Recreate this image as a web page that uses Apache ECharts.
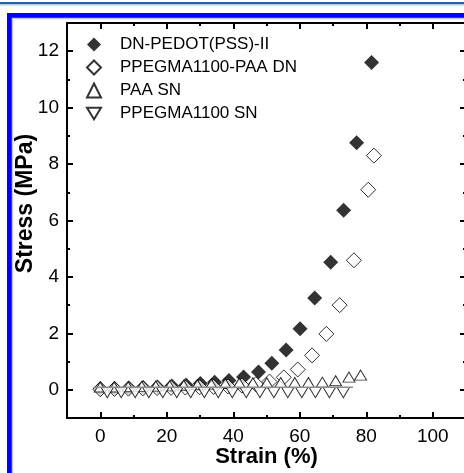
<!DOCTYPE html>
<html>
<head>
<meta charset="utf-8">
<script src="https://cdn.jsdelivr.net/npm/echarts@6/dist/echarts.min.js"></script>
<style>
  html, body { margin: 0; padding: 0; background: #fff; }
  #chart { width: 464px; height: 473px; }
</style>
</head>
<body>
<div id="chart"></div>
<script>
  // series names
  var nameDN = 'DN-PEDOT(PSS)-II';
  var nameHDN = 'PPEGMA1100-PAA DN';
  var namePAA = 'PAA SN';
  var namePEG = 'PPEGMA1100 SN';

  // DN-PEDOT(PSS)-II  (filled diamonds)
  var strainDN = [0, 4.3, 8.6, 12.9, 17.2, 21.5, 25.8, 30.1, 34.4, 38.7, 43.1, 47.6, 51.6, 55.9, 60.1, 64.5, 69.3, 73.2, 77.1, 81.6];
  var stressDN = [0.04, 0.05, 0.06, 0.08, 0.1, 0.13, 0.17, 0.22, 0.27, 0.33, 0.45, 0.63, 0.94, 1.41, 2.16, 3.25, 4.52, 6.36, 8.76, 11.6];

  // PPEGMA1100-PAA DN  (open diamonds)
  var strainHDN = [0, 4.3, 8.5, 12.8, 17.1, 21.3, 25.6, 29.9, 34.1, 38.4, 42.6, 46.8, 50.9, 55.2, 59.4, 63.7, 68.0, 72.0, 76.3, 80.6, 82.3];
  var stressHDN = [0.02, 0.03, 0.04, 0.05, 0.06, 0.07, 0.08, 0.09, 0.1, 0.12, 0.15, 0.2, 0.29, 0.44, 0.72, 1.22, 1.98, 3.0, 4.59, 7.09, 8.3];

  // PAA SN  (open up-triangles)
  var strainPAA = [0, 4.2, 8.4, 12.5, 16.7, 20.9, 25.1, 29.2, 33.4, 37.6, 41.8, 45.9, 50.1, 54.3, 58.5, 62.6, 66.8, 70.8, 74.8, 78.3];
  var stressPAA = [0.1, 0.1, 0.11, 0.12, 0.13, 0.14, 0.16, 0.18, 0.2, 0.22, 0.24, 0.25, 0.25, 0.26, 0.26, 0.26, 0.27, 0.32, 0.45, 0.52];

  // PPEGMA1100 SN  (open down-triangles)
  var strainPEG = [2.1, 6.3, 10.5, 14.6, 18.8, 23.0, 27.2, 31.3, 35.5, 39.7, 43.9, 48.0, 52.2, 56.4, 60.6, 64.7, 68.9, 73.1];
  var stressPEG = [-0.1, -0.1, -0.1, -0.1, -0.1, -0.1, -0.1, -0.1, -0.1, -0.1, -0.1, -0.1, -0.1, -0.1, -0.1, -0.1, -0.1, -0.1];

  // grey base line
  var strainBase = [-2, 76];
  var stressBase = [0.09, 0.09];

  // ticks
  var xMajor = [0, 20, 40, 60, 80, 100];
  var xMinor = [10, 30, 50, 70, 90];
  var yMajor = [0, 2, 4, 6, 8, 10, 12];
  var yMinor = [1, 3, 5, 7, 9, 11];

  function pairs(xs, ys) {
    return xs.map(function (x, i) { return [x, ys[i]]; });
  }

  var font = '"Liberation Sans", Arial, sans-serif';

  function xAx(pos, ticks, len, showLine, showLabel) {
    return {
      type: 'value', position: pos, min: -10, max: 110,
      axisLine: { show: showLine, onZero: false, lineStyle: { color: '#000', width: 2 } },
      axisTick: { show: true, inside: true, length: len, customValues: ticks, lineStyle: { color: '#000', width: 2 } },
      axisLabel: { show: showLabel, customValues: ticks, color: '#000', fontSize: 19, fontFamily: font, margin: 9 },
      splitLine: { show: false }
    };
  }
  function yAx(pos, ticks, len, showLine, showLabel) {
    return {
      type: 'value', position: pos, min: -1, max: 13,
      axisLine: { show: showLine, onZero: false, lineStyle: { color: '#000', width: 2 } },
      axisTick: { show: true, inside: true, length: len, customValues: ticks, lineStyle: { color: '#000', width: 2 } },
      axisLabel: { show: showLabel, customValues: ticks, color: '#000', fontSize: 19, fontFamily: font, margin: 8 },
      splitLine: { show: false }
    };
  }

  var xBottom = xAx('bottom', xMajor, 6, true, true);
  xBottom.name = 'Strain (%)';
  xBottom.nameLocation = 'middle';
  xBottom.nameGap = 28;
  xBottom.nameMoveOverlap = false;
  xBottom.nameTextStyle = { color: '#000', fontSize: 22, fontWeight: 'bold', fontFamily: font };

  var yLeft = yAx('left', yMajor, 6, true, true);
  yLeft.name = 'Stress (MPa)';
  yLeft.nameLocation = 'middle';
  yLeft.nameGap = 30;
  yLeft.nameMoveOverlap = false;
  yLeft.nameTextStyle = { color: '#000', fontSize: 23, fontWeight: 'bold', fontFamily: font, padding: [0, 0, 0, 34] };

  var chart = echarts.init(document.getElementById('chart'));

  var option = {
    animation: false,
    backgroundColor: '#fff',
    grid: { left: 67, top: 23, right: -2, bottom: 55, outerBoundsMode: 'none' },
    graphic: [
      { type: 'rect', silent: true, shape: { x: 0, y: 2, width: 464, height: 2 }, style: { fill: '#2462a8' } },
      { type: 'rect', silent: true, shape: { x: 0, y: 4, width: 464, height: 1.5 }, style: { fill: '#b5cbe5' } },
      { type: 'rect', silent: true, shape: { x: 9.5, y: 15.5, width: 470, height: 460 }, style: { fill: 'none', stroke: '#0000ff', lineWidth: 5 } },
      { type: 'rect', silent: true, shape: { x: 12.5, y: 18.5, width: 470, height: 460 }, style: { fill: 'none', stroke: '#c4c4ff', lineWidth: 1.5 } }
    ],
    legend: {
      orient: 'vertical',
      left: 81,
      top: 31,
      itemWidth: 14,
      itemHeight: 14,
      itemGap: 6,
      data: [
        { name: nameDN },
        { name: nameHDN },
        { name: namePAA },
        { name: namePEG, icon: 'path://M0,0L12,0L6,10Z' }
      ],
      textStyle: { color: '#000', fontSize: 17, fontFamily: font, padding: [0, 0, 0, 14] }
    },
    xAxis: [
      xBottom,
      xAx('bottom', xMinor, 3, false, false),
      xAx('top', xMajor, 6, true, false),
      xAx('top', xMinor, 3, false, false)
    ],
    yAxis: [
      yLeft,
      yAx('left', yMinor, 3, false, false),
      yAx('right', yMajor, 6, false, false),
      yAx('right', yMinor, 3, false, false)
    ],
    series: [
      {
        name: nameDN, type: 'scatter', symbol: 'diamond', symbolSize: 15,
        itemStyle: { color: '#000' },
        data: pairs(strainDN, stressDN)
      },
      {
        name: nameHDN, type: 'scatter', symbol: 'diamond', symbolSize: 15,
        itemStyle: { color: '#fff', borderColor: '#000', borderWidth: 1 },
        data: pairs(strainHDN, stressHDN)
      },
      {
        name: namePAA, type: 'scatter', symbol: 'triangle', symbolSize: [12, 10],
        itemStyle: { color: '#fff', borderColor: '#000', borderWidth: 1 },
        data: pairs(strainPAA, stressPAA)
      },
      {
        name: namePEG, type: 'scatter', symbol: 'triangle', symbolSize: [12, 10], symbolRotate: 180,
        itemStyle: { color: '#fff', borderColor: '#000', borderWidth: 1 },
        data: pairs(strainPEG, stressPEG)
      },
      {
        name: 'base', type: 'line', symbol: 'none', silent: true,
        lineStyle: { color: '#8c8c8c', width: 1.5 },
        data: pairs(strainBase, stressBase)
      }
    ]
  };

  chart.setOption(option);
</script>
</body>
</html>
